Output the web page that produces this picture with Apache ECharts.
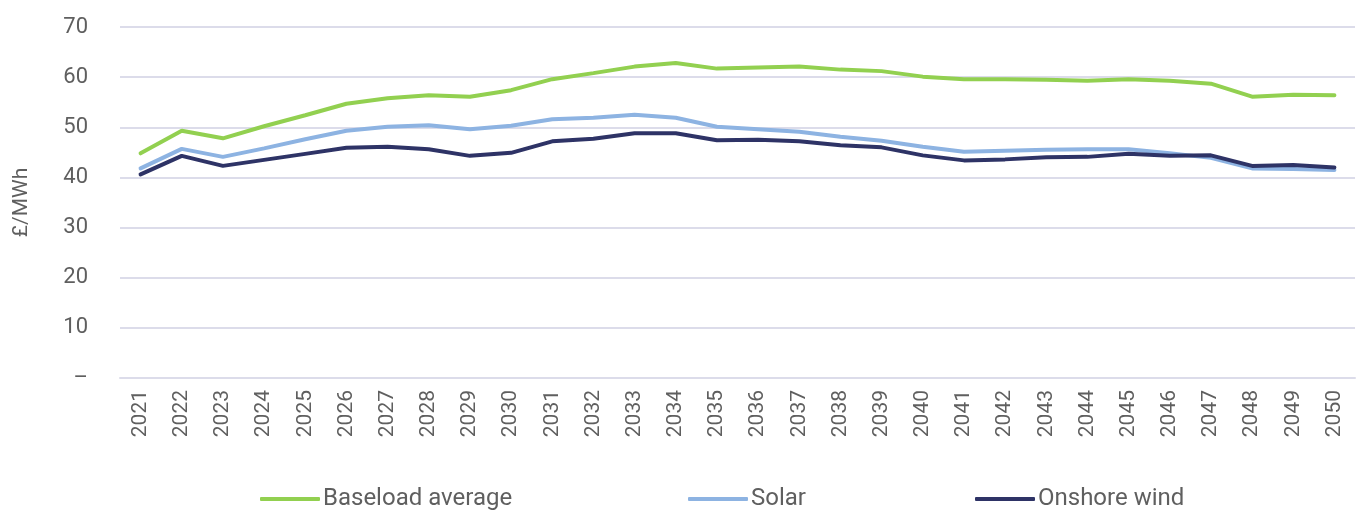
<!DOCTYPE html>
<html><head><meta charset="utf-8">
<script src="https://cdn.jsdelivr.net/npm/echarts@6/dist/echarts.min.js"></script>
<style>html,body{margin:0;padding:0;background:#fff}#c{width:1365px;height:514px}</style>
</head><body><div id="c"></div>
<script>
const years = ['2021','2022','2023','2024','2025','2026','2027','2028','2029','2030','2031','2032','2033','2034','2035','2036','2037','2038','2039','2040','2041','2042','2043','2044','2045','2046','2047','2048','2049','2050'];
const baseload = [44.8,49.3,47.8,50.2,52.4,54.7,55.8,56.4,56.1,57.4,59.6,60.8,62.1,62.8,61.7,61.9,62.1,61.5,61.2,60.1,59.6,59.6,59.5,59.3,59.6,59.3,58.7,56.1,56.5,56.4];
const solar = [41.8,45.7,44.1,45.8,47.6,49.3,50.1,50.4,49.6,50.3,51.6,51.9,52.5,51.9,50.1,49.6,49.1,48.1,47.3,46.1,45.1,45.3,45.5,45.6,45.6,44.8,43.9,41.8,41.7,41.5];
const onshore = [40.6,44.3,42.3,43.5,44.7,45.9,46.1,45.6,44.3,44.9,47.2,47.7,48.8,48.8,47.4,47.5,47.2,46.4,46.0,44.4,43.4,43.6,44.0,44.1,44.7,44.3,44.4,42.3,42.5,42.0];
const yTicks = [0,10,20,30,40,50,60,70];

const FONT = 'Roboto';
const TXT = '#5f5f5f';
const chart = echarts.init(document.getElementById('c'));
function mkLegend(name, left){
  return {left:left, top:482, icon:'roundRect', itemWidth:60, itemHeight:4, itemGap:0,
    textStyle:{fontFamily:FONT, fontSize:24, color:TXT, padding:[0,0,0,-2]}, data:[name]};
}
chart.setOption({
  animation:false,
  grid:{left:120, right:10, top:27, bottom:136},
  legend:[mkLegend('Baseload average',255), mkLegend('Solar',683), mkLegend('Onshore wind',970)],
  xAxis:{type:'category', data:years, boundaryGap:true,
    axisLine:{lineStyle:{color:'#dcdcea', width:2}}, axisTick:{show:false},
    axisLabel:{rotate:90, fontFamily:FONT, fontSize:21, color:TXT, margin:12, interval:0}},
  yAxis:{type:'value', min:0, max:70, interval:10,
    name:'£/MWh', nameLocation:'middle', nameGap:88, nameRotate:90,
    nameTextStyle:{fontFamily:FONT, fontSize:21, color:TXT},
    axisLine:{show:false}, axisTick:{show:false},
    splitLine:{lineStyle:{color:'#dcdcea', width:2}},
    axisLabel:{fontFamily:FONT, fontSize:22, color:TXT, margin:32,
      formatter:v=> yTicks.includes(v) ? (v===0?'–':String(v)) : ''}},
  series:[
    {name:'Baseload average', type:'line', data:baseload, symbol:'none', lineStyle:{color:'#92d050', width:4, cap:'round'}, itemStyle:{color:'#92d050'}},
    {name:'Solar', type:'line', data:solar, symbol:'none', lineStyle:{color:'#8db3e2', width:4, cap:'round'}, itemStyle:{color:'#8db3e2'}},
    {name:'Onshore wind', type:'line', data:onshore, symbol:'none', lineStyle:{color:'#2e3366', width:4, cap:'round'}, itemStyle:{color:'#2e3366'}}
  ]
});
</script></body></html>
